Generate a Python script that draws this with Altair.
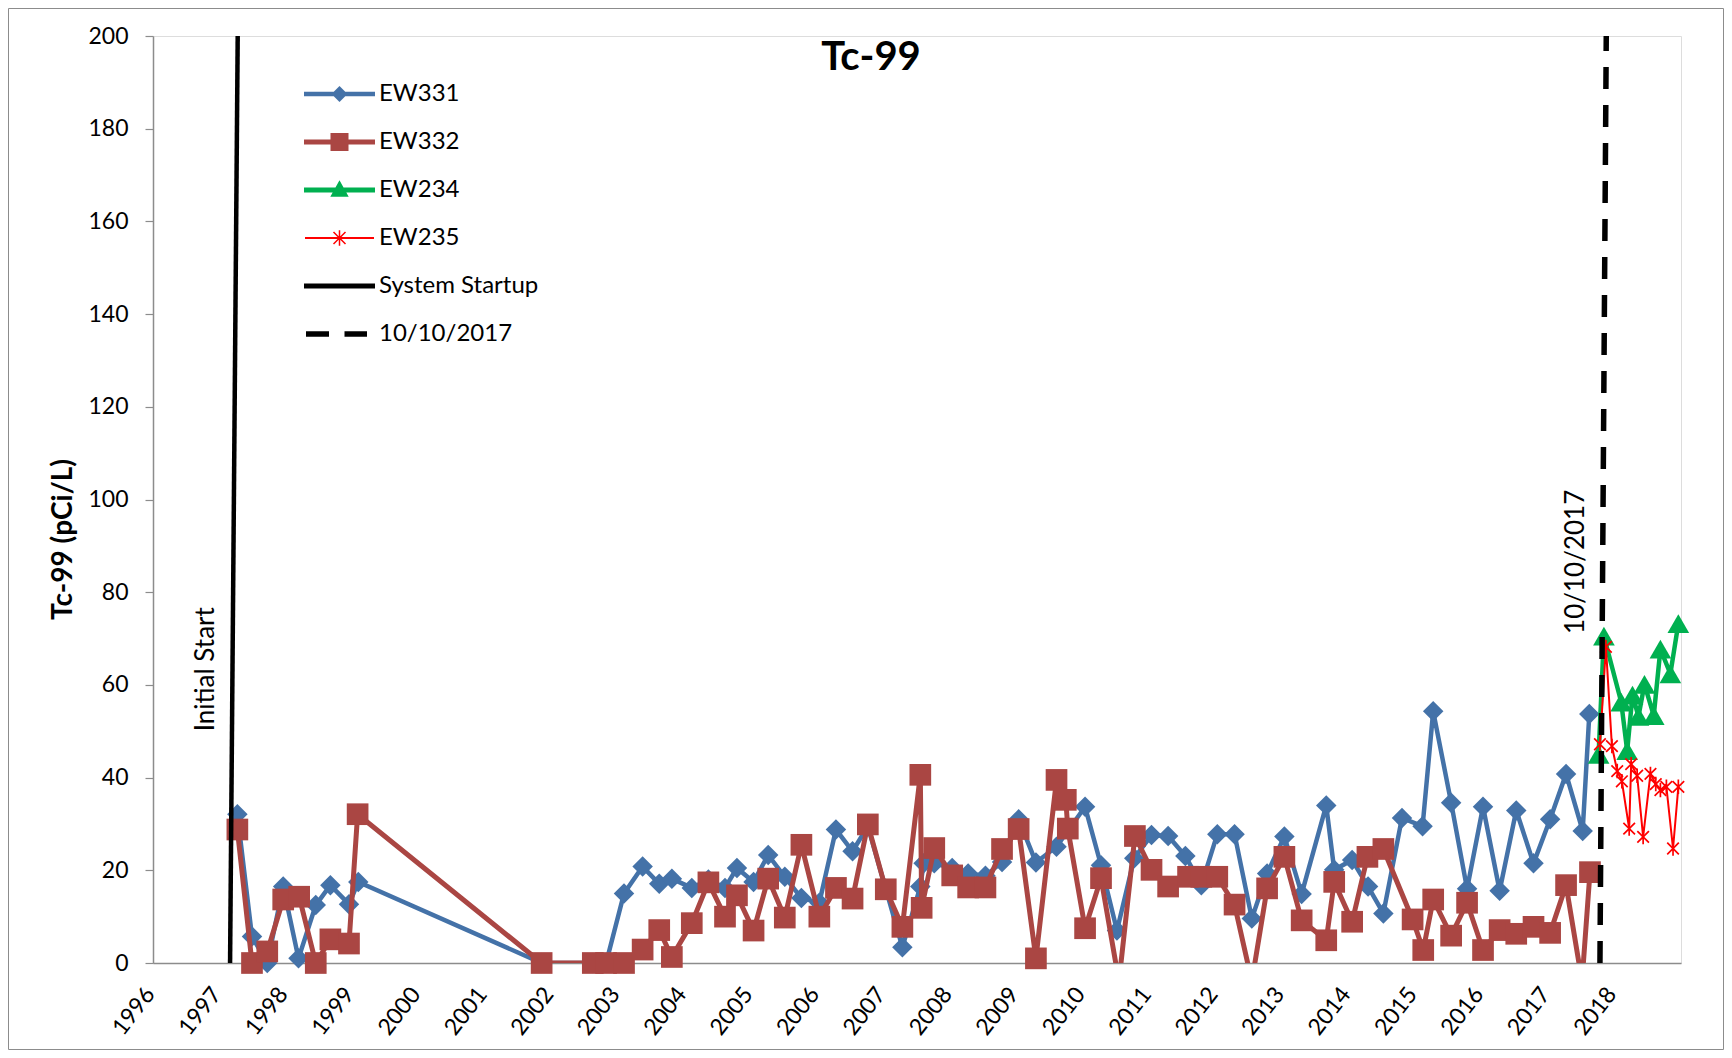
import altair as alt
import pandas as pd

FONT = "Lato"

# ---------------- data (decimal year, pCi/L) ----------------
ew331_year = [1997.27, 1997.49, 1997.72, 1997.96, 1998.19, 1998.45, 1998.67, 1998.95, 1999.09,
              2001.85, 2002.62, 2002.82, 2003.09, 2003.37, 2003.62, 2003.81, 2004.11, 2004.36,
              2004.61, 2004.79, 2005.04, 2005.26, 2005.51, 2005.76, 2006.03, 2006.28, 2006.53,
              2006.76, 2007.03, 2007.28, 2007.55, 2007.60, 2007.76, 2008.03, 2008.27, 2008.53,
              2008.78, 2009.03, 2009.29, 2009.60, 2010.03, 2010.27, 2010.51, 2010.77, 2011.03,
              2011.28, 2011.54, 2011.78, 2012.02, 2012.28, 2012.54, 2012.77, 2013.03, 2013.29,
              2013.66, 2013.78, 2014.05, 2014.29, 2014.52, 2014.80, 2015.11, 2015.27, 2015.54,
              2015.78, 2016.02, 2016.27, 2016.52, 2016.78, 2017.03, 2017.27, 2017.52, 2017.62]
ew331_val = [32.1, 5.7, 0.0, 16.5, 1.0, 12.5, 16.8, 12.7, 17.5,
             0.0, 0.0, 0.0, 15.0, 20.8, 17.1, 18.2, 16.2, 18.0,
             16.2, 20.5, 17.5, 23.3, 18.6, 14.0, 13.0, 28.8, 24.1,
             29.5, 16.0, 3.4, 16.5, 21.5, 21.5, 20.5, 19.3, 18.8,
             21.8, 31.0, 21.7, 25.1, 33.7, 21.1, 7.0, 22.6, 27.6,
             27.4, 23.1, 16.8, 27.8, 27.8, 9.6, 19.3, 27.3, 14.9,
             34.0, 20.1, 22.2, 16.5, 10.7, 31.3, 29.5, 54.3, 34.6,
             16.0, 33.7, 15.6, 32.9, 21.5, 31.0, 40.8, 28.5, 53.7]

ew332_year = [1997.27, 1997.49, 1997.72, 1997.96, 1998.20, 1998.45, 1998.67, 1998.95, 1999.08,
              2001.85, 2002.62, 2002.82, 2003.09, 2003.37, 2003.62, 2003.81, 2004.11, 2004.36,
              2004.61, 2004.79, 2005.04, 2005.26, 2005.51, 2005.76, 2006.03, 2006.28, 2006.53,
              2006.76, 2007.03, 2007.28, 2007.55, 2007.57, 2007.76, 2008.03, 2008.27, 2008.53,
              2008.78, 2009.03, 2009.29, 2009.60, 2009.74, 2009.77, 2010.03, 2010.27, 2010.54,
              2010.78, 2011.03, 2011.28, 2011.58, 2011.78, 2012.02, 2012.28, 2012.54, 2012.77,
              2013.03, 2013.29, 2013.66, 2013.78, 2014.05, 2014.28, 2014.52, 2014.96, 2015.12,
              2015.27, 2015.54, 2015.78, 2016.02, 2016.27, 2016.52, 2016.78, 2017.03, 2017.27,
              2017.51, 2017.63]
ew332_val = [28.8, 0.0, 2.5, 13.7, 14.3, 0.0, 5.1, 4.2, 32.1,
             0.0, 0.0, 0.0, 0.0, 2.9, 7.1, 1.3, 8.6, 17.4,
             10.0, 14.6, 7.0, 18.2, 9.8, 25.5, 10.0, 16.2, 13.9,
             29.9, 15.9, 7.8, 40.6, 11.9, 24.8, 18.9, 16.3, 16.3,
             24.6, 28.9, 1.0, 39.5, 35.2, 29.0, 7.5, 18.3, -4.0,
             27.4, 20.1, 16.5, 18.6, 18.6, 18.6, 12.6, -4.0, 16.1,
             22.9, 9.2, 4.9, 17.5, 8.9, 22.9, 24.6, 9.4, 2.8,
             13.7, 5.9, 13.0, 2.8, 7.1, 6.3, 7.8, 6.5, 16.8,
             -4.0, 19.6]

ew234_year = [2017.76, 2017.84, 2018.10, 2018.19, 2018.27, 2018.36, 2018.45, 2018.59, 2018.69,
              2018.84, 2018.96]
ew234_val = [45.0, 70.5, 56.3, 45.8, 57.8, 53.2, 60.1, 53.4, 67.7, 62.4, 73.2]

ew235_year = [2017.78, 2017.87, 2017.96, 2018.04, 2018.11, 2018.22, 2018.25, 2018.34, 2018.43,
              2018.54, 2018.62, 2018.69, 2018.78, 2018.88, 2018.96]
ew235_val = [47.2, 68.2, 46.8, 41.4, 39.2, 29.0, 42.9, 40.4, 27.2, 40.8, 38.6, 37.3, 38.0, 24.7, 38.0]

startup_year = [1997.16, 1997.275]
startup_val = [0, 200]
cutoff_year = [2017.78, 2017.875]
cutoff_val = [0, 200]

ann_year = [1997.16, 2017.78]
ann_val = [50, 71]
ann_text = ["Initial Start", "10/10/2017"]

chart_title = "Tc-99"
y_title = "Tc-99 (pCi/L)"

year_ticks = list(range(1996, 2019))
value_ticks = list(range(0, 201, 20))

legend_names = ["EW331", "EW332", "EW234", "EW235", "System Startup", "10/10/2017"]
legend_colors = ["#4472A8", "#AA4643", "#00B050", "#FF0000", "#000000", "#000000"]

# legend glyphs: line + marker (units of 10 px)
legend_paths = [
    "M-1,-0.22L6.1,-0.22L6.1,0.22L-1,0.22Z M2.55,-0.8L3.35,0L2.55,0.8L1.75,0Z",
    "M-1,-0.24L6.1,-0.24L6.1,0.24L-1,0.24Z M1.65,-0.9L3.45,-0.9L3.45,0.9L1.65,0.9Z",
    "M-1,-0.24L6.1,-0.24L6.1,0.24L-1,0.24Z M2.55,-0.97L3.47,0.67L1.63,0.67Z",
    "M-0.9,-0.1L6.0,-0.1L6.0,0.1L-0.9,0.1Z "
    "M2.475,-0.78L2.625,-0.78L2.625,0.78L2.475,0.78Z "
    "M2.003,-0.653L3.203,0.547L3.097,0.653L1.897,-0.547Z "
    "M3.203,-0.547L2.003,0.653L1.897,0.547L3.097,-0.653Z",
    "M-1,-0.26L6.1,-0.26L6.1,0.26L-1,0.26Z",
    "M-0.8,-0.27L1.5,-0.27L1.5,0.27L-0.8,0.27Z M3.05,-0.27L5.3,-0.27L5.3,0.27L3.05,0.27Z",
]

ASTERISK = "M-0.8,-0.8L0.8,0.8M0.8,-0.8L-0.8,0.8M0,-1L0,1"

series_style = [
    ("EW331", ew331_year, ew331_val, "#4472A8", 4.5, "diamond", 420, True),
    ("EW332", ew332_year, ew332_val, "#AA4643", 5.0, "square", 470, True),
    ("EW234", ew234_year, ew234_val, "#00B050", 4.5, "triangle-up", 470, True),
    ("EW235", ew235_year, ew235_val, "#FF0000", 2.0, ASTERISK, 210, False),
]

frames = [pd.DataFrame({"series": n, "year": yr, "value": v})
          for n, yr, v, *_ in series_style]
wells = pd.concat(frames, ignore_index=True)

# ---------------- scales / axes ----------------
x_scale = alt.Scale(domain=[1996, 2019], nice=False, zero=False)
y_scale = alt.Scale(domain=[0, 200], nice=False, zero=True)

x_axis = alt.Axis(values=year_ticks, format="d", labelAngle=-52, labelAlign="right",
                  labelBaseline="middle", labelFont=FONT, labelFontSize=23,
                  labelColor="black", ticks=False, grid=False, domainColor="#8C8C8C",
                  domainWidth=1.5, labelPadding=27, labelOffset=-3,
                  labelOverlap=False, labelFlush=False, title=None)
y_axis = alt.Axis(values=value_ticks, labelFont=FONT, labelFontSize=23, labelColor="black",
                  ticks=True, tickSize=8, tickColor="#8C8C8C", tickWidth=1.2, grid=False,
                  domainColor="#8C8C8C", domainWidth=1.5, labelPadding=17,
                  title=y_title, titleFont=FONT, titleFontSize=28,
                  titleFontWeight="bold", titleColor="black", titleX=-90, titleY=503,
                  titleBaseline="middle", titleAngle=270)

X = alt.X("year:Q", scale=x_scale, axis=x_axis)
Y = alt.Y("value:Q", scale=y_scale, axis=y_axis)

layers = []

# frame around the whole chart
frame_df = pd.DataFrame({"k": [0]})
layers.append(
    alt.Chart(frame_df).mark_rect(fillOpacity=0, stroke="#8C8C8C", strokeWidth=1).encode(
        x=alt.value(-144.5), x2=alt.value(1570.5), y=alt.value(-27.5), y2=alt.value(1013.5))
)

for name, yr, v, color, width, shape, size, filled in series_style:
    base = alt.Chart(wells).transform_filter(alt.datum.series == name)
    layers.append(base.mark_line(color=color, strokeWidth=width, clip=True).encode(x=X, y=Y))
    pt = base.transform_filter(alt.datum.value >= 0)
    if filled:
        layers.append(pt.mark_point(shape=shape, size=size, filled=True, color=color,
                                    opacity=1).encode(x=X, y=Y))
    else:
        layers.append(pt.mark_point(shape=shape, size=size, filled=False, color=color,
                                    strokeWidth=1.7, opacity=1).encode(x=X, y=Y))

startup_df = pd.DataFrame({"year": startup_year, "value": startup_val})
layers.append(alt.Chart(startup_df).mark_line(color="black", strokeWidth=4.5).encode(x=X, y=Y))

cutoff_df = pd.DataFrame({"year": cutoff_year, "value": cutoff_val})
layers.append(alt.Chart(cutoff_df).mark_line(color="black", strokeWidth=5.5,
                                             strokeDash=[22, 16]).encode(x=X, y=Y))

ann_df = pd.DataFrame({"year": ann_year, "value": ann_val, "label": ann_text})
layers.append(alt.Chart(ann_df).mark_text(angle=270, align="left", baseline="middle", dy=-24,
                                          font=FONT, fontSize=26, color="black").encode(
    x=X, y=Y, text="label:N"))

# chart title drawn as text inside the plot frame (as in the reference)
title_df = pd.DataFrame({"label": [chart_title]})
layers.append(alt.Chart(title_df).mark_text(font=FONT, fontSize=40, fontWeight="bold",
                                            color="black", align="center",
                                            baseline="middle").encode(
    x=alt.value(718), y=alt.value(22), text="label:N"))

# legend layer (no marks drawn, only the legend)
legend_df = pd.DataFrame({"series": legend_names, "year": [2000] * 6, "value": [100] * 6})
leg = alt.Legend(orient="none", legendX=149, legendY=46, title=None, labelFont=FONT,
                 labelFontSize=24, labelColor="black", symbolSize=400, symbolStrokeWidth=0,
                 rowPadding=24, labelOffset=53, padding=0, labelLimit=400)
layers.append(
    alt.Chart(legend_df).transform_filter("false").mark_point(filled=True, opacity=1).encode(
        x=X, y=Y,
        color=alt.Color("series:N", scale=alt.Scale(domain=legend_names, range=legend_colors),
                        legend=leg),
        shape=alt.Shape("series:N", scale=alt.Scale(domain=legend_names, range=legend_paths),
                        legend=leg),
    )
)

chart = alt.layer(*layers).properties(
    width=1528, height=927,
    autosize=alt.AutoSizeParams(type="none"),
    padding={"left": 145, "top": 28, "right": 43, "bottom": 87},
).configure_view(stroke=None).configure(background="white")

chart.save("out.html", embed_options={"renderer": "svg", "actions": False})
